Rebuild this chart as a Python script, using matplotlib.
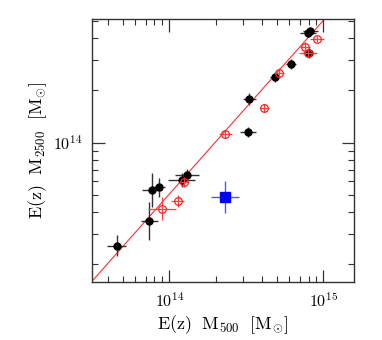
import numpy as np
import matplotlib
matplotlib.use("Agg")
import matplotlib.pyplot as plt
from matplotlib.ticker import FuncFormatter, LogLocator, NullFormatter

plt.rcParams['mathtext.fontset'] = 'cm'
plt.rcParams['font.family'] = ['DejaVu Serif']

UNIT = 1e14

# Black filled points (units of 1e14 Msun)
blk_x = [7.93, 8.21, 8.00, 6.16, 4.85, 3.30, 3.26, 1.30, 1.20, 0.853, 0.769, 0.741, 0.455]
blk_y = [4.30, 4.40, 3.27, 2.84, 2.38, 1.78, 1.16, 0.655, 0.611, 0.555, 0.532, 0.355, 0.255]
blk_xlo = [0.86, 0.89, 0.70, 0.43, 0.34, 0.30, 0.37, 0.21, 0.22, 0.08, 0.107, 0.085, 0.06]
blk_xhi = [0.96, 1.00, 0.76, 0.47, 0.37, 0.33, 0.41, 0.25, 0.27, 0.09, 0.124, 0.098, 0.07]
blk_ylo = [0.22, 0.22, 0.21, 0.18, 0.15, 0.14, 0.075, 0.05, 0.054, 0.066, 0.104, 0.08, 0.033]
blk_yhi = [0.23, 0.23, 0.23, 0.20, 0.17, 0.15, 0.08, 0.055, 0.059, 0.075, 0.138, 0.10, 0.038]

# Red open points
red_x = [9.06, 7.60, 7.90, 5.18, 4.14, 2.31, 1.25, 1.13, 0.897]
red_y = [3.93, 3.56, 3.30, 2.52, 1.59, 1.13, 0.597, 0.462, 0.418]
red_xlo = [0.90, 0.53, 1.00, 0.37, 0.24, 0.20, 0.09, 0.11, 0.17]
red_xhi = [0.99, 0.58, 1.17, 0.40, 0.26, 0.22, 0.10, 0.12, 0.21]
red_ylo = [0.15, 0.21, 0.17, 0.16, 0.08, 0.06, 0.04, 0.035, 0.06]
red_yhi = [0.16, 0.22, 0.18, 0.17, 0.085, 0.06, 0.04, 0.038, 0.07]

# Blue square
blue_x = [2.29]
blue_y = [0.490]
blue_xlo = [0.43]
blue_xhi = [0.53]
blue_ylo = [0.094]
blue_yhi = [0.116]

# Best-fit relation: M2500 = norm * M500^slope (in 1e14 units)
fit_norm = 0.507
fit_slope = 1.0

fig = plt.figure(figsize=(3.82, 3.40), dpi=100)
ax = fig.add_axes([0.241, 0.1706, 0.927 - 0.241, 0.944 - 0.1706])
ax.set_xscale('log')
ax.set_yscale('log')
ax.set_xlim(3.15e13, 1.58e15)
ax.set_ylim(1.58e13, 5.15e14)

lx = np.array([3.0e13, 2.0e15])
ax.plot(lx, fit_norm * UNIT * (lx / UNIT) ** fit_slope, color='#ff3030', lw=0.8, zorder=1)

def arr(v):
    return np.array(v) * UNIT

ax.errorbar(arr(blk_x), arr(blk_y),
            xerr=[arr(blk_xlo), arr(blk_xhi)], yerr=[arr(blk_ylo), arr(blk_yhi)],
            fmt='o', color='black', ms=5, ecolor='#333333', elinewidth=1.0, capsize=0, zorder=3)
ax.errorbar(arr(red_x), arr(red_y),
            xerr=[arr(red_xlo), arr(red_xhi)], yerr=[arr(red_ylo), arr(red_yhi)],
            fmt='o', mfc='none', mec='#ff2020', ms=5.5, mew=0.9, ecolor='#ff4040', elinewidth=0.9,
            capsize=0, zorder=4)
ax.errorbar(arr(blue_x), arr(blue_y),
            xerr=[arr(blue_xlo), arr(blue_xhi)], yerr=[arr(blue_ylo), arr(blue_yhi)],
            fmt='s', color='#0000ff', ms=6.5, ecolor='#5555ff', elinewidth=1.0, capsize=0, zorder=5)

fmt = FuncFormatter(lambda v, p: r'$\mathrm{10^{%d}}$' % int(round(np.log10(v))))
for axis in (ax.xaxis, ax.yaxis):
    axis.set_major_locator(LogLocator(base=10, numticks=10))
    axis.set_minor_locator(LogLocator(base=10, subs=np.arange(2, 10), numticks=20))
    axis.set_major_formatter(fmt)
    axis.set_minor_formatter(NullFormatter())

ax.tick_params(which='both', direction='in', top=True, right=True, color='#333333')
ax.tick_params(which='major', length=9, width=0.9, labelsize=11.5, pad=7)
ax.tick_params(which='minor', length=4.5, width=0.8)
for s in ax.spines.values():
    s.set_linewidth(1.0)
    s.set_color('#333333')

ax.set_xlabel(r'$\mathrm{E(z)\ \ M_{500}\ \ [M_{\odot}]}$', fontsize=13, labelpad=2)
ax.set_ylabel(r'$\mathrm{E(z)\ \ M_{2500}\ \ [M_{\odot}]}$', fontsize=13, labelpad=3)

fig.savefig('out.png', dpi=100)
